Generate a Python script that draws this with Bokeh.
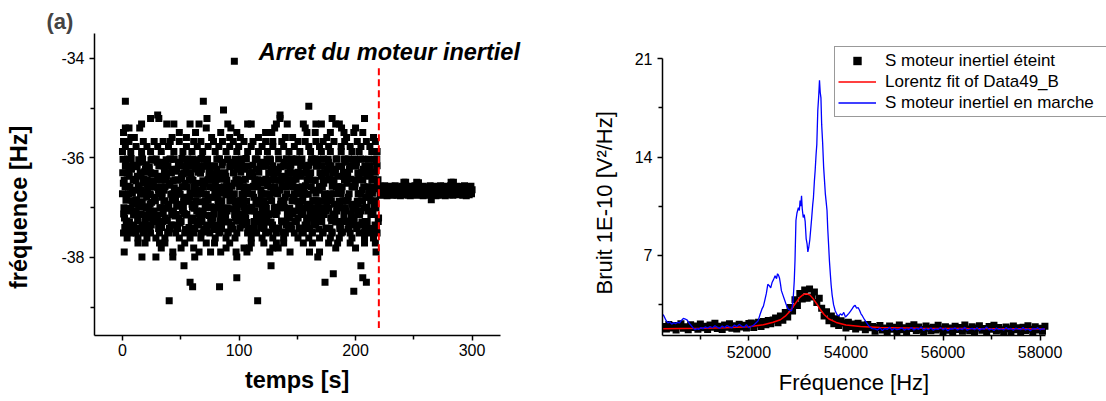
import numpy as np
from bokeh.plotting import figure
from bokeh.layouts import row
from bokeh.models import FixedTicker, Label, Legend, LegendItem, Range1d
from bokeh.embed import file_html
from bokeh.resources import INLINE

FONT = "Liberation Sans"
NB = "\u00a0"

# ---------------- panel (a): frequency vs time ----------------
# motor running, series A: one sample every 0.5 s from t = 0 s
dt_on = 0.5
freq_on = [
    -36.72,-36.03,-37.13,-36.45,-37.40,-36.17,-36.85,-37.27,-36.31,-37.01,-36.57,
    -36.29,-37.29,-36.59,-37.02,-36.01,-37.43,-36.71,-36.15,-37.15,-36.43,-36.87,
    -37.12,-36.46,-36.84,-36.18,-37.26,-36.56,-36.04,-36.99,-37.41,-36.73,-36.32,
    -36.00,-36.88,-37.44,-36.42,-36.98,-36.28,-37.30,-36.70,-36.14,-37.16,-36.60,
    -36.57,-37.03,-36.19,-37.39,-36.74,-36.05,-36.89,-36.33,-37.25,-36.47,-37.11,
    -36.86,-36.31,-37.28,-36.02,-36.59,-37.15,-36.43,-37.42,-36.72,-36.16,-37.00,
    -36.44,-37.40,-36.71,-36.14,-37.13,-36.87,-36.29,-36.58,-37.01,-36.04,-37.27,
    -37.26,-36.17,-36.99,-36.55,-36.03,-37.43,-36.73,-36.30,-36.85,-37.14,-36.46,
    -36.03,-36.60,-37.17,-36.84,-36.27,-36.97,-37.41,-36.45,-36.15,-36.70,-37.31,
    -36.73,-37.29,-36.42,-36.01,-37.02,-36.32,-36.88,-37.12,-36.56,-37.44,-36.18,
    -37.15,-36.58,-36.02,-36.87,-37.40,-36.30,-36.71,-36.16,-37.27,-36.44,-36.99,
    -36.45,-36.15,-37.01,-37.42,-36.57,-36.86,-36.04,-37.28,-36.73,-36.29,-37.13,
    -36.88,-37.26,-36.31,-36.70,-36.01,-37.14,-36.46,-36.59,-37.43,-36.17,-37.00,
    -36.16,-36.73,-37.41,-36.03,-36.85,-36.43,-37.16,-36.28,-36.98,-37.30,-36.58,
    -37.29,-36.44,-36.60,-37.13,-36.17,-36.99,-36.32,-37.44,-36.02,-36.74,-36.86,
    -36.59,-36.02,-36.87,-37.27,-36.43,-37.42,-36.15,-37.01,-36.71,-36.31,-37.14,
    -36.30,-37.15,-36.74,-36.45,-37.00,-36.04,-37.29,-36.57,-36.18,-36.85,-37.40,
    -37.02,-36.57,-36.16,-37.43,-36.30,-36.72,-36.89,-36.03,-37.12,-37.27,-36.44,
    -36.14,-36.86,-37.27,-36.58,-37.41,-36.29,-36.02,-36.73,-37.15,-36.45,-36.99,
    -36.71,-37.13,-36.43,-36.01,-36.87,-37.30,-36.59,-36.17,-37.42,-36.31,-37.01,
    -37.43,-36.31,-36.99,-36.72,-36.15,-36.57,-37.28,-36.44,-36.03,-36.86,-37.14,
    -36.02,-36.58,-37.15,-36.29,-37.27,-36.85,-36.45,-37.41,-36.71,-37.00,-36.17,
    -36.87,-37.42,-36.16,-36.73,-36.43,-37.01,-36.03,-36.56,-37.29,-36.30,-37.13,
    -36.44,-36.04,-37.29,-36.86,-37.13,-36.16,-36.70,-37.43,-36.30,-36.58,-36.99,
    -37.14,-36.71,-36.30,-37.41,-36.02,-36.45,-36.99,-36.18,-36.86,-37.27,-36.57,
    -36.58,-36.17,-36.88,-37.00,-36.43,-37.29,-36.02,-36.72,-37.14,-36.31,-37.42,
    -36.31,-37.01,-36.57,-36.15,-37.43,-36.86,-37.13,-36.44,-36.03,-36.72,-37.27,
    -37.28,-36.43,-36.02,-36.59,-36.87,-36.29,-37.41,-36.99,-36.72,-36.15,-37.14,
    -36.02,-36.87,-37.14,-36.31,-36.72,-37.42,-36.56,-36.16,-37.28,-36.44,-37.00,
    -36.73,-36.15,-37.42,-36.99,-36.30,-36.58,-37.15,-36.02,-36.45,-37.29,-36.86,
    -37.00,-36.45,-36.71,-36.17,-37.27,-36.03,-36.86,-37.43,-36.58,-36.30,-37.13,
    -36.16,-37.28,-36.58,-36.87,-36.02,-37.14,-36.30,-36.73,-37.41,-36.44,-36.99,
    -36.86,-36.03,-37.01,-36.43,-37.42,-36.72,-36.16,-37.27,-36.57,-37.13,-36.29,
    -36.44,-37.15,-36.30,-37.29,-36.58,-36.02,-36.99,-36.71,-36.17,-36.87,-37.42,
    -37.41,-36.71,-36.17,-36.58,-37.00,-36.29,-37.14,-36.44,-36.86,-36.03,-37.28,
    -36.30,-36.86,-37.43,-36.02,-36.72,-37.27,-36.43,-36.16,-37.13,-36.57,-37.00,
    -36.58,-37.28,-36.02,-36.99,-36.44,-36.16,-37.42,-36.87,-36.30,-37.14,-36.72,
    -37.13,-36.44,-36.72,-36.30,-37.29,-36.87,-36.03,-36.58,-37.00,-36.17,-37.41,
    -36.17,-36.99,-37.28,-36.58,-36.03,-37.42,-36.71,-36.30,-36.86,-37.14,-36.44,
    -36.71,-37.14,-36.43,-36.03,-36.87,-36.29,-37.00,-37.41,-36.16,-36.58,-37.28,
]

# motor running, series B: one sample every 1 s from t = 0.25 s
t0_on_b, dt_on_b = 0.25, 1.0
freq_on_b = [
    -36.30,-37.00,-36.58,-37.28,-36.02,-36.72,-37.42,-36.16,-36.86,-36.44,-37.14,
    -36.86,-36.16,-37.42,-36.58,-36.30,-37.14,-36.02,-36.72,-37.28,-37.00,-36.44,
    -37.42,-36.72,-36.30,-36.02,-37.14,-36.58,-36.86,-37.28,-36.44,-36.16,-37.00,
    -36.58,-37.28,-36.16,-36.86,-36.44,-37.00,-36.30,-37.42,-36.02,-37.14,-36.72,
    -36.02,-36.44,-37.14,-37.42,-36.72,-36.16,-37.28,-36.58,-37.00,-36.30,-36.86,
    -37.14,-36.86,-36.44,-36.30,-37.42,-36.02,-36.58,-37.00,-36.72,-37.28,-36.16,
    -36.72,-36.02,-37.28,-37.14,-36.16,-36.86,-37.42,-36.44,-36.30,-36.58,-37.00,
    -36.16,-37.42,-36.72,-36.44,-37.00,-36.30,-36.02,-37.14,-36.86,-37.28,-36.58,
    -37.28,-36.58,-36.02,-36.72,-36.86,-37.42,-36.16,-36.30,-37.14,-36.44,-37.00,
    -36.44,-37.14,-36.86,-36.16,-37.28,-36.58,-37.00,-36.02,-36.72,-37.42,-36.30,
    -37.00,-36.30,-36.58,-37.42,-36.02,-36.86,-36.44,-37.28,-36.16,-36.72,-37.14,
    -36.86,-37.28,-36.16,-36.72,-37.14,-36.02,-36.58,-36.30,-37.42,-37.00,-36.44,
    -36.30,-36.72,-37.42,-37.00,-36.44,-37.28,-36.86,-36.16,-36.58,-36.02,-37.14,
    -37.14,-36.44,-36.02,-36.58,-36.86,-36.30,-37.28,-36.72,-37.00,-37.42,-36.16,
    -36.58,-37.00,-36.72,-36.30,-37.42,-36.16,-36.44,-37.14,-36.02,-36.86,-37.28,
    -36.02,-36.86,-37.14,-37.28,-36.58,-37.00,-36.16,-36.44,-36.72,-36.30,-37.42,
    -37.42,-36.16,-36.44,-36.86,-36.30,-36.72,-37.14,-36.02,-37.28,-36.58,-37.00,
    -36.72,-37.28,-36.86,-36.02,-37.00,-36.44,-36.30,-37.42,-36.16,-37.14,-36.58,
    -36.16,-36.58,-37.00,-37.42,-36.72,-37.14,-36.02,-36.86,-36.44,-36.30,-37.28,
    -37.28,-36.30,-36.72,-36.16,-37.14,-36.58,-37.42,-37.00,-36.86,-36.02,-36.44,
]

# motor running, series C: one sample every 1 s from t = 0.75 s
t0_on_c, dt_on_c = 0.75, 1.0
freq_on_c = [
    -36.51,-37.21,-36.09,-36.79,-37.49,-36.37,-37.07,-36.23,-36.93,-37.35,-36.65,
    -37.07,-36.37,-36.93,-36.09,-36.65,-37.35,-36.51,-37.49,-36.23,-36.79,-37.21,
    -36.23,-36.93,-37.35,-36.51,-37.07,-36.79,-37.21,-36.09,-36.65,-37.49,-36.37,
    -36.79,-36.09,-36.65,-37.21,-36.37,-37.49,-36.93,-36.51,-37.35,-36.23,-37.07,
    -37.35,-36.65,-36.23,-36.93,-37.21,-36.09,-36.37,-37.07,-36.79,-36.51,-37.49,
    -36.09,-37.49,-36.79,-36.37,-36.93,-37.21,-36.65,-36.23,-37.07,-36.51,-37.35,
    -36.65,-36.23,-37.07,-37.49,-36.51,-36.93,-36.09,-37.35,-36.37,-37.21,-36.79,
    -37.21,-36.79,-36.51,-36.23,-37.35,-36.65,-37.49,-36.93,-36.09,-36.37,-37.07,
    -36.37,-37.07,-37.49,-36.65,-36.09,-37.35,-36.79,-36.51,-37.21,-36.93,-36.23,
    -36.93,-36.51,-36.09,-37.35,-36.79,-36.23,-37.21,-36.65,-37.49,-37.07,-36.37,
    -37.49,-36.37,-36.79,-37.07,-36.23,-36.51,-36.93,-37.21,-36.65,-36.09,-37.35,
    -36.51,-36.93,-37.21,-36.09,-37.49,-36.79,-36.23,-37.35,-36.37,-37.07,-36.65,
    -37.07,-36.23,-36.65,-36.93,-36.37,-37.49,-36.09,-36.79,-37.35,-36.51,-37.21,
    -36.23,-37.35,-36.51,-36.79,-37.07,-36.09,-36.65,-37.21,-36.93,-36.37,-37.49,
    -36.79,-36.65,-37.35,-36.23,-36.93,-37.21,-36.37,-36.09,-37.49,-36.65,-37.07,
    -37.35,-36.09,-36.93,-36.65,-37.21,-36.37,-37.49,-36.51,-36.79,-37.07,-36.23,
    -36.09,-36.79,-37.21,-37.49,-36.51,-36.93,-36.23,-37.07,-36.37,-36.65,-37.35,
    -36.65,-37.49,-36.37,-36.09,-37.07,-36.51,-36.79,-36.23,-37.35,-36.93,-37.21,
    -37.21,-36.51,-36.09,-36.93,-36.37,-37.35,-37.07,-36.65,-36.23,-37.49,-36.79,
    -36.37,-37.07,-36.79,-36.23,-37.49,-36.65,-36.93,-37.35,-36.09,-36.51,-37.21,
]

# motor running: scattered points at the edges of the cloud (frequency level -> times)
edge_levels = [-35.21, -35.32, -35.40, -35.49, -35.59, -35.67, -35.77, -35.87,
               -37.51, -37.61, -37.71, -37.81, -37.89, -37.99]
edge_times = [
    [24.1, 31.2, 72.5, 135.2, 179.9, 207.7],
    [16.4, 38.0, 44.1, 58.0, 65.7, 90.4, 107.4, 110.5, 132.1, 141.4, 155.2, 166.0, 170.7, 183.0, 186.1],
    [2.5, 5.6, 14.8, 71.9, 93.0, 130.6, 156.8, 188.0, 200.0],
    [0.9, 48.8, 62.7, 84.3, 98.1, 122.8, 128.1, 158.3, 165.4, 178.4, 190.1, 198.5, 206.2],
    [7.1, 10.2, 42.6, 54.9, 76.5, 92.0, 101.2, 116.7, 139.8, 146.0, 175.3, 192.3, 215.4],
    [0.9, 5.6, 17.9, 27.2, 34.9, 41.0, 48.8, 61.1, 67.3, 78.1, 85.8, 95.1, 104.3, 112.0, 122.8,
     129.0, 136.7, 150.6, 156.8, 166.0, 172.2, 181.5, 190.7, 201.5, 209.3, 217.0],
    [2.5, 11.7, 21.0, 30.2, 39.5, 54.9, 64.2, 73.5, 82.7, 92.0, 99.7, 110.5, 119.8, 129.0, 138.3,
     147.5, 159.9, 169.1, 176.9, 187.7, 195.4, 204.6, 212.3],
    [0.0, 7.1, 16.4, 24.1, 33.3, 44.1, 51.9, 59.6, 68.8, 79.6, 88.9, 98.1, 107.4, 116.7, 124.4,
     133.6, 142.9, 152.2, 161.4, 170.7, 178.4, 187.7, 196.9, 203.1, 213.9, 218.5],
    [0.9, 7.1, 11.7, 17.9, 24.1, 31.8, 39.5, 45.7, 53.4, 61.1, 67.3, 75.0, 82.7, 90.4, 98.1,
     107.4, 115.1, 122.8, 132.1, 139.8, 147.5, 155.2, 163.0, 172.2, 179.9, 187.7, 195.4, 203.1, 212.3, 218.5],
    [4.0, 13.3, 21.0, 28.7, 36.4, 48.8, 58.0, 67.3, 79.6, 88.9, 96.6, 110.5, 119.8, 129.0, 138.3,
     150.6, 159.9, 169.1, 178.4, 186.1, 196.9, 207.7, 215.4],
    [13.3, 19.4, 31.8, 36.4, 53.4, 71.9, 79.0, 92.0, 110.5, 121.3, 132.1, 138.3, 155.2, 163.0,
     176.9, 184.6, 195.4, 207.7, 217.0],
    [33.3, 50.3, 61.1, 88.9, 104.3, 108.9, 129.0, 133.6, 183.0, 200.0],
    [1.5, 43.2, 65.7, 75.6, 84.3, 97.5, 106.8, 126.5, 143.8, 160.5, 169.1, 217.6],
    [16.7, 28.7, 43.2, 62.0, 98.1, 167.6],
]

# motor running: isolated outliers
outlier_t = [2.5, 96.0, 69.4, 86.7, 159.9, 30.2, 135.2,
             52.8, 58.0, 60.2, 83.3, 40.1, 98.1, 116.0, 127.5, 173.8, 180.9, 198.5, 204.6, 206.2, 209.3]
outlier_f = [-34.86, -34.06, -34.86, -35.04, -34.96, -35.14, -35.14,
             -38.17, -38.50, -38.59, -38.59, -38.87, -38.41, -38.87, -38.17, -38.50, -38.33, -38.68, -38.17, -38.41, -38.50]

# motor stopped: one sample every 0.5 s from t = 220.5 s
t_stop = 220.0
dt_off = 0.5
freq_off = [
    -36.62,-36.74,-36.57,-36.69,-36.65,-36.75,-36.59,-36.71,-36.63,-36.56,
    -36.73,-36.60,-36.68,-36.76,-36.58,-36.66,-36.72,-36.61,-36.74,-36.64,
    -36.57,-36.70,-36.63,-36.75,-36.59,-36.67,-36.73,-36.56,-36.69,-36.62,
    -36.75,-36.61,-36.66,-36.58,-36.72,-36.64,-36.76,-36.60,-36.68,-36.57,
    -36.71,-36.63,-36.74,-36.59,-36.67,-36.56,-36.73,-36.65,-36.61,-36.75,
    -36.58,-36.69,-36.62,-36.76,-36.64,-36.71,-36.57,-36.66,-36.74,-36.60,
    -36.68,-36.56,-36.73,-36.63,-36.75,-36.59,-36.70,-36.62,-36.58,-36.72,
    -36.64,-36.74,-36.60,-36.67,-36.57,-36.76,-36.63,-36.69,-36.61,-36.73,
    -36.59,-36.66,-36.75,-36.58,-36.71,-36.62,-36.68,-36.56,-36.74,-36.65,
    -36.72,-36.60,-36.64,-36.73,-36.57,-36.69,-36.61,-36.76,-36.63,-36.58,
    -36.66,-36.75,-36.59,-36.62,-36.70,-36.56,-36.74,-36.64,-36.68,-36.60,
    -36.57,-36.71,-36.65,-36.76,-36.61,-36.67,-36.58,-36.73,-36.62,-36.69,
    -36.74,-36.63,-36.56,-36.68,-36.72,-36.60,-36.75,-36.64,-36.59,-36.70,
    -36.61,-36.69,-36.73,-36.57,-36.66,-36.74,-36.62,-36.58,-36.71,-36.65,
    -36.70,-36.58,-36.64,-36.75,-36.60,-36.68,-36.56,-36.72,-36.63,-36.76,
    -36.63,-36.73,-36.59,-36.66,-36.74,-36.61,-36.69,-36.57,-36.72,-36.64,
]
off_extra_t = [241.5, 243.0, 252.5, 254.0, 282.0, 284.0, 265.0]
off_extra_f = [-36.49, -36.49, -36.49, -36.50, -36.49, -36.49, -36.84]

stop_line_f = [-34.2, -39.42]

xticks_a = [0, 100, 200, 300]
xminor_a = [50, 150, 250]
yticks_a = [-38, -36, -34]
yminor_a = [-39, -37, -35]

# ---------------- panel (b): noise spectra ----------------
# motor off: sample every 50 Hz from 50250 Hz
f0_off, df_off = 50250, 50
S_off = [
    1.95, 1.78, 2.10, 1.84, 2.02, 1.70, 1.98, 2.15, 1.82, 1.93, 1.72, 2.08, 1.88, 1.99, 1.75, 2.12, 1.86, 1.96,
    1.74, 2.05, 1.90, 2.18, 1.80, 1.97, 1.73, 2.06, 1.89, 2.14, 1.83, 2.00, 1.77, 2.11, 1.92, 2.03, 1.85, 2.16,
    2.20, 1.88, 2.12, 2.25, 1.95, 2.30, 2.08, 2.38, 2.15, 2.42,
    2.55, 2.22, 2.70, 2.40, 2.95, 2.62, 3.30, 3.05,
    3.85, 3.45, 4.30, 3.90, 4.55, 3.95, 4.62, 4.05, 4.40, 3.65, 3.95,
    3.25, 2.70, 3.00, 2.35, 2.70, 2.15, 2.50, 2.02, 2.35,
    2.20, 1.85, 2.25, 1.95, 2.12, 1.78, 2.18, 1.90, 2.05, 1.72, 2.10, 1.86,
    1.95, 1.62, 1.88, 2.02, 1.70, 1.84, 1.55, 1.98, 1.76, 1.90,
    1.60, 2.05, 1.72, 1.86, 1.58, 1.96, 1.80, 2.08, 1.66, 1.92,
    1.74, 1.55, 1.99, 1.82, 1.64, 1.90, 1.70, 2.04, 1.78, 1.57,
    1.94, 1.68, 1.85, 1.52, 1.97, 1.73, 1.88, 1.61, 2.06, 1.77,
    1.65, 1.93, 1.58, 1.84, 2.00, 1.69, 1.80, 1.56, 1.95, 1.75,
    2.03, 1.63, 1.87, 1.71, 1.50, 1.92, 1.79, 1.60, 1.98, 1.72,
    1.86, 1.54, 1.90, 1.67, 2.01, 1.76, 1.59, 1.94, 1.70, 1.83,
    1.62, 1.96,
]

# Lorentz fit
fit_f = [50220, 51000, 51500, 52000, 52300, 52500, 52650, 52750, 52850, 52950, 53050, 53120, 53190,
         53260, 53330, 53400, 53480, 53550, 53650, 53800, 54000, 54300, 54700, 55500, 56500, 58100]
fit_S = [1.79, 1.82, 1.86, 1.94, 2.08, 2.25, 2.43, 2.68, 3.05, 3.55, 4.02, 4.22, 4.28,
         4.18, 3.90, 3.55, 3.12, 2.80, 2.48, 2.24, 2.06, 1.95, 1.88, 1.83, 1.80, 1.78]

# motor on
on_f_a = [50224, 50250, 50290, 50330, 50370, 50410, 50450, 50490, 50530, 50570,
          50610, 50650, 50690, 50730, 50770, 50810, 50850, 50890, 50930, 50970,
          51010, 51050, 51100, 51150, 51200, 51250, 51300, 51350, 51400, 51450,
          51500, 51550, 51600, 51650, 51700, 51750, 51800, 51850, 51900, 51950,
          52000, 52050, 52100, 52150, 52190, 52230, 52270, 52300, 52330, 52360,
          52390, 52420, 52450, 52480, 52510, 52540, 52570, 52590, 52610, 52630,
          52650, 52670, 52700, 52740, 52780, 52810, 52850, 52880, 52910, 52935,
          52950, 52970, 52990, 53020, 53040, 53055, 53070, 53085, 53100, 53120,
          53140, 53160, 53180, 53200, 53215, 53235, 53255, 53275, 53295, 53315,
          53330, 53350, 53365, 53385, 53400, 53420, 53440, 53455, 53470, 53485,
          53500, 53520, 53540, 53555, 53575, 53590, 53610, 53625, 53645, 53660,
          53680, 53695, 53715, 53745, 53780, 53815, 53850, 53885, 53920, 53955,
          53990, 54025, 54060, 54095, 54130, 54160, 54190, 54220, 54250, 54280,
          54310, 54340, 54380, 54420, 54460, 54500, 54540]
on_S_a = [2.80, 2.70, 2.40, 2.20, 2.28, 2.12, 2.22, 2.15, 2.25, 2.20,
          2.38, 2.52, 2.48, 2.40, 2.18, 2.02, 1.85, 1.72, 1.80, 1.75,
          1.88, 1.80, 1.92, 1.84, 1.95, 1.86, 2.00, 1.90, 1.82, 1.98,
          1.88, 2.02, 1.92, 1.85, 2.05, 1.94, 2.10, 1.98, 1.90, 2.08,
          1.86, 1.95, 2.05, 2.22, 2.35, 2.80, 3.20, 3.40, 3.85, 4.30,
          4.95, 4.85, 4.70, 5.10, 5.30, 5.55, 5.35, 5.70, 5.60, 5.40,
          5.00, 4.50, 4.20, 3.80, 3.40, 3.20, 3.10, 3.05, 3.75, 5.20,
          6.60, 9.50, 10.0, 10.4, 10.2, 10.9, 10.5, 11.25, 10.3, 9.70,
          9.90, 9.40, 8.20, 7.80, 7.25, 7.60, 8.10, 8.90, 9.70, 10.6,
          11.1, 12.3, 13.0, 14.2, 14.9, 17.3, 18.4, 19.45, 18.6, 18.2,
          16.3, 15.0, 13.3, 12.5, 11.4, 10.9, 10.2, 8.9, 7.6, 6.6,
          5.6, 4.9, 4.2, 3.5, 3.05, 2.80, 2.70, 2.85, 2.75, 2.95,
          2.62, 2.75, 2.88, 3.05, 3.22, 3.38, 3.45, 3.25, 3.30, 3.10,
          2.85, 2.70, 2.45, 2.25, 2.05, 1.90, 1.80]
# motor on, tail: sample every 50 Hz from 54600 Hz
f0_tail, df_tail = 54600, 50
on_S_b = [1.78, 1.70, 1.85, 1.66, 1.80, 1.74, 1.90, 1.68, 1.82, 1.72,
          1.76, 1.86, 1.69, 1.79, 1.73, 1.88, 1.70, 1.81, 1.75, 1.92,
          1.67, 1.80, 1.72, 1.84, 1.69, 1.78, 1.74, 1.87, 1.71, 1.83,
          1.65, 1.79, 1.76, 1.85, 1.70, 1.81, 1.73, 1.89, 1.68, 1.77,
          1.82, 1.72, 1.86, 1.69, 1.80, 1.75, 1.91, 1.71, 1.78, 1.66,
          1.84, 1.73, 1.79, 1.70, 1.87, 1.74, 1.81, 1.68, 1.83, 1.76,
          1.72, 1.88, 1.70, 1.79, 1.64, 1.82, 1.75, 1.86, 1.71, 1.80,
          1.74]

xticks_b = [52000, 54000, 56000, 58000]
xminor_b = [51000, 53000, 55000, 57000]
yticks_b = [7, 14, 21]
yminor_b = [3.5, 10.5, 17.5]

legend_labels = ["S moteur inertiel éteint", "Lorentz fit of Data49_B", "S moteur inertiel en marche"]

# ---------------- build arrays ----------------
t_on = dt_on * np.arange(len(freq_on))
t_on_b = t0_on_b + dt_on_b * np.arange(len(freq_on_b))
t_on_c = t0_on_c + dt_on_c * np.arange(len(freq_on_c))
edge_t, edge_f = [], []
for lvl, ts in zip(edge_levels, edge_times):
    edge_t += ts
    edge_f += [lvl] * len(ts)
t_off = t_stop + dt_off * (1 + np.arange(len(freq_off)))

f_off = f0_off + df_off * np.arange(len(S_off))
on_f = list(on_f_a) + list(f0_tail + df_tail * np.arange(len(on_S_b)))
on_S = list(on_S_a) + list(on_S_b)


def style_axes(p, bold):
    for ax in (p.xaxis[0], p.yaxis[0]):
        ax.axis_line_width = 1.5
        ax.axis_line_color = "black"
        ax.major_tick_in = 0
        ax.major_tick_out = 5
        ax.minor_tick_in = 0
        ax.minor_tick_out = 4
        ax.major_tick_line_width = 1.5
        ax.minor_tick_line_width = 1.5
        ax.major_label_text_font = FONT
        ax.major_label_text_font_size = "16px"
        ax.major_label_text_color = "black"
        ax.axis_label_text_font = FONT
        ax.axis_label_text_font_size = "23.5px" if bold else "22px"
        ax.axis_label_text_font_style = "bold" if bold else "normal"
        ax.axis_label_text_color = "black"
    p.xgrid.visible = False
    p.ygrid.visible = False
    p.outline_line_color = None


# both frames of the row share the same top and bottom edges
TOP, BOTTOM = 33, 66

# ---------------- left figure ----------------
p1 = figure(width=560, height=401, output_backend="svg", toolbar_location=None,
            x_range=Range1d(-24, 363), y_range=Range1d(-39.57, -33.5),
            min_border_left=94, min_border_right=15, min_border_top=TOP, min_border_bottom=BOTTOM)
style_axes(p1, True)
p1.xaxis.bounds = (-24, 324)
p1.xaxis.axis_label = "temps [s]" + NB * 7
p1.yaxis.axis_label = "fréquence [Hz]" + NB * 7
p1.xaxis.ticker = FixedTicker(ticks=xticks_a, minor_ticks=xminor_a)
p1.yaxis.ticker = FixedTicker(ticks=yticks_a, minor_ticks=yminor_a)
p1.xaxis.major_label_overrides = {v: str(v) for v in xticks_a}
p1.yaxis.major_label_overrides = {v: str(v) for v in yticks_a}
p1.xaxis.major_label_standoff = 3
p1.yaxis.major_label_standoff = 5
p1.xaxis.axis_label_standoff = 8
p1.yaxis.axis_label_standoff = 26
p1.title.text = "(a)"
p1.title.text_font = FONT
p1.title.text_font_style = "bold"
p1.title.text_font_size = "22px"
p1.title.align = "left"
p1.title.vertical_align = "bottom"
p1.title.offset = -48
p1.title.standoff = 0

sq = dict(marker="square", size=7, fill_color="black", line_color=None)
p1.scatter(t_on, freq_on, **sq)
p1.scatter(t_on_b, freq_on_b, **sq)
p1.scatter(t_on_c, freq_on_c, **sq)
p1.scatter(edge_t, edge_f, **sq)
p1.scatter(outlier_t, outlier_f, **sq)
p1.scatter(t_off, freq_off, **sq)
p1.scatter(off_extra_t, off_extra_f, **sq)
p1.line([t_stop, t_stop], stop_line_f, line_color="red", line_width=2, line_dash="7 4")

p1.add_layout(Label(x=117, y=-34.14, text="Arret du moteur inertiel", text_font=FONT,
                    text_font_style="bold italic", text_font_size="23.5px", text_color="black"))

# ---------------- right figure ----------------
p2 = figure(width=546, height=401, output_backend="svg", toolbar_location=None, title=None,
            x_range=Range1d(50220, 59369), y_range=Range1d(1.31, 22.78),
            min_border_left=102, min_border_right=0, min_border_top=TOP, min_border_bottom=BOTTOM)
style_axes(p2, False)
p2.xaxis.bounds = (50220, 58103)
p2.yaxis.bounds = (1.31, 21)
p2.xaxis.axis_label = "Fréquence [Hz]" + NB * 10
p2.yaxis.axis_label = "Bruit 1E-10 [V²/Hz]" + NB * 6
p2.xaxis.ticker = FixedTicker(ticks=xticks_b, minor_ticks=xminor_b)
p2.yaxis.ticker = FixedTicker(ticks=yticks_b, minor_ticks=yminor_b)
p2.xaxis.major_label_overrides = {v: str(v) for v in xticks_b}
p2.yaxis.major_label_overrides = {v: str(v) for v in yticks_b}
p2.xaxis.major_label_standoff = 5
p2.yaxis.major_label_standoff = 5
p2.xaxis.axis_label_standoff = 9
p2.yaxis.axis_label_standoff = 15

r_off = p2.scatter(f_off, S_off, marker="square", size=7, fill_color="black", line_color=None)
r_fit = p2.line(fit_f, fit_S, line_color="red", line_width=1.5)
r_on = p2.line(on_f, on_S, line_color="blue", line_width=1.3)

legend = Legend(items=[LegendItem(label=legend_labels[0], renderers=[r_off]),
                       LegendItem(label=legend_labels[1], renderers=[r_fit]),
                       LegendItem(label=legend_labels[2], renderers=[r_on])],
                location=(172, 218))
legend.label_text_font = FONT
legend.label_text_font_size = "17px"
legend.label_text_color = "black"
legend.glyph_width = 38
legend.glyph_height = 21
legend.label_height = 21
legend.label_width = 230
legend.label_standoff = 9
legend.padding = 3
legend.spacing = 0
legend.margin = 0
legend.border_line_color = "#333333"
legend.border_line_width = 1
legend.background_fill_color = "white"
legend.background_fill_alpha = 1.0
p2.add_layout(legend)

layout = row(p1, p2)
open("out.html", "w").write(file_html(layout, INLINE))
